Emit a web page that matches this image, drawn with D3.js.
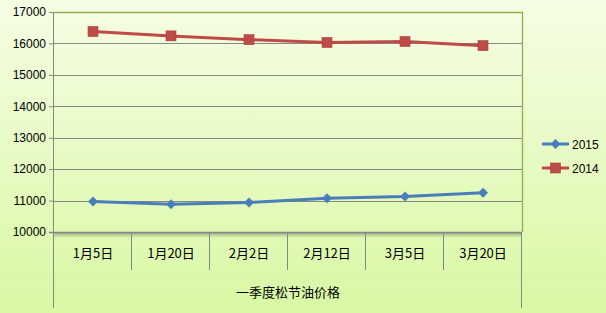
<!DOCTYPE html>
<html>
<head>
<meta charset="utf-8">
<script src="https://cdn.jsdelivr.net/npm/d3@7"></script>
<style>
  html, body { margin: 0; padding: 0; }
  body { width: 606px; height: 313px; overflow: hidden; }
  svg text { font-family: "Noto Sans CJK SC", "Liberation Sans", sans-serif; fill: #000; }
</style>
</head>
<body>
<svg id="chart" width="606" height="313"></svg>
<script>
const categories = ['1月5日', '1月20日', '2月2日', '2月12日', '3月5日', '3月20日']
const series2015 = [10970, 10880, 10940, 11070, 11130, 11250]
const series2014 = [16380, 16240, 16120, 16030, 16060, 15930]
const yTicks = [10000, 11000, 12000, 13000, 14000, 15000, 16000, 17000]
const axisTitle = '一季度松节油价格'

const series = [
  { name: '2015', values: series2015, color: '#4a7ebb', marker: 'diamond' },
  { name: '2014', values: series2014, color: '#be4b48', marker: 'square' },
]

const svg = d3.select('#chart')
const margin = { top: 12, left: 54, right: 84, bottom: 81 }
const width = 606, height = 313
const innerW = width - margin.left - margin.right
const innerH = height - margin.top - margin.bottom

// background gradient
const defs = svg.append('defs')
const grad = defs.append('linearGradient').attr('id', 'bg').attr('x1', 0).attr('y1', 0).attr('x2', 0).attr('y2', 1)
grad.append('stop').attr('offset', '0%').attr('stop-color', '#f5fde4')
grad.append('stop').attr('offset', '100%').attr('stop-color', '#d8f8a3')
const shadow = defs.append('linearGradient').attr('id', 'shadow').attr('x1', 0).attr('y1', 0).attr('x2', 0).attr('y2', 1)
shadow.append('stop').attr('offset', '0%').attr('stop-color', '#000').attr('stop-opacity', 0.28)
shadow.append('stop').attr('offset', '100%').attr('stop-color', '#000').attr('stop-opacity', 0)
svg.append('rect').attr('width', width).attr('height', height).attr('fill', 'url(#bg)')

const x = d3.scaleBand().domain(categories).range([0, innerW])
const y = d3.scaleLinear().domain([10000, 17000]).range([innerH, 0])

const g = svg.append('g').attr('transform', `translate(${margin.left},${margin.top})`)

// gridlines
g.append('g')
  .selectAll('line')
  .data(yTicks.slice(1, -1))
  .join('line')
  .attr('x1', 0).attr('x2', innerW)
  .attr('y1', (d) => Math.round(y(d)) + 0.5).attr('y2', (d) => Math.round(y(d)) + 0.5)
  .attr('stroke', '#868686').attr('stroke-width', 1)

// top + right border (green)
g.append('path')
  .attr('d', `M0,0.5H${innerW + 0.5}V${innerH}`)
  .attr('fill', 'none').attr('stroke', '#8fae4d').attr('stroke-width', 1.3)

// x axis shadow
g.append('rect').attr('x', 0).attr('y', innerH + 1).attr('width', innerW).attr('height', 5).attr('fill', 'url(#shadow)')

// y axis
const yAxis = g.append('g')
  .call(d3.axisLeft(y).tickValues(yTicks).tickSize(5).tickPadding(3).tickFormat(d3.format('d')))
yAxis.select('.domain').attr('stroke', '#868686').attr('d', `M-0.5,0V${innerH + 76}`)
yAxis.selectAll('.tick line').attr('stroke', '#868686')
yAxis.selectAll('.tick text').style('font-size', '12px').style('font-family', '"Liberation Sans", sans-serif')

// x axis line
g.append('line').attr('x1', -5).attr('x2', innerW).attr('y1', innerH + 0.5).attr('y2', innerH + 0.5)
  .attr('stroke', '#868686').attr('stroke-width', 1.3)

// category separators
const seps = categories.map((c) => x(c)).concat([innerW])
g.append('g').selectAll('line')
  .data(seps)
  .join('line')
  .attr('x1', (d) => Math.round(d) - 0.5).attr('x2', (d) => Math.round(d) - 0.5)
  .attr('y1', innerH)
  .attr('y2', (d, i) => (i === 0 || i === seps.length - 1) ? innerH + 76 : innerH + 38)
  .attr('stroke', '#868686')

// category labels
g.append('g').selectAll('text')
  .data(categories)
  .join('text')
  .attr('x', (d) => x(d) + x.bandwidth() / 2)
  .attr('y', innerH + 26)
  .attr('text-anchor', 'middle')
  .style('font-size', '13px')
  .text((d) => d)

g.append('text')
  .attr('x', innerW / 2)
  .attr('y', innerH + 65)
  .attr('text-anchor', 'middle')
  .style('font-size', '13px')
  .text(axisTitle)

function marker(sel, type, color) {
  if (type === 'diamond') {
    sel.append('path').attr('d', 'M0,-5L5,0L0,5L-5,0Z').attr('fill', color)
  } else {
    sel.append('rect').attr('x', -5).attr('y', -5).attr('width', 10).attr('height', 10)
      .attr('fill', color).attr('stroke', '#a8403d').attr('stroke-width', 0.6)
  }
}

const line = d3.line()
  .x((d, i) => x(categories[i]) + x.bandwidth() / 2)
  .y((d) => y(d))

series.forEach((s) => {
  g.append('path')
    .datum(s.values)
    .attr('d', line)
    .attr('fill', 'none')
    .attr('stroke', s.color)
    .attr('stroke-width', 3)
  s.values.forEach((v, i) => {
    const m = g.append('g').attr('transform', `translate(${x(categories[i]) + x.bandwidth() / 2},${y(v)})`)
    marker(m, s.marker, s.color)
  })
})

// legend
const legend = svg.append('g').attr('transform', 'translate(542,144)')
series.forEach((s, i) => {
  const row = legend.append('g').attr('transform', `translate(0,${i * 24})`)
  row.append('line').attr('x1', 0).attr('x2', 27).attr('stroke', s.color).attr('stroke-width', 3)
  marker(row.append('g').attr('transform', 'translate(13.5,0)'), s.marker, s.color)
  row.append('text').attr('x', 30).attr('y', 4.5).style('font-size', '12px')
    .style('font-family', '"Liberation Sans", sans-serif').text(s.name)
})
</script>
</body>
</html>
